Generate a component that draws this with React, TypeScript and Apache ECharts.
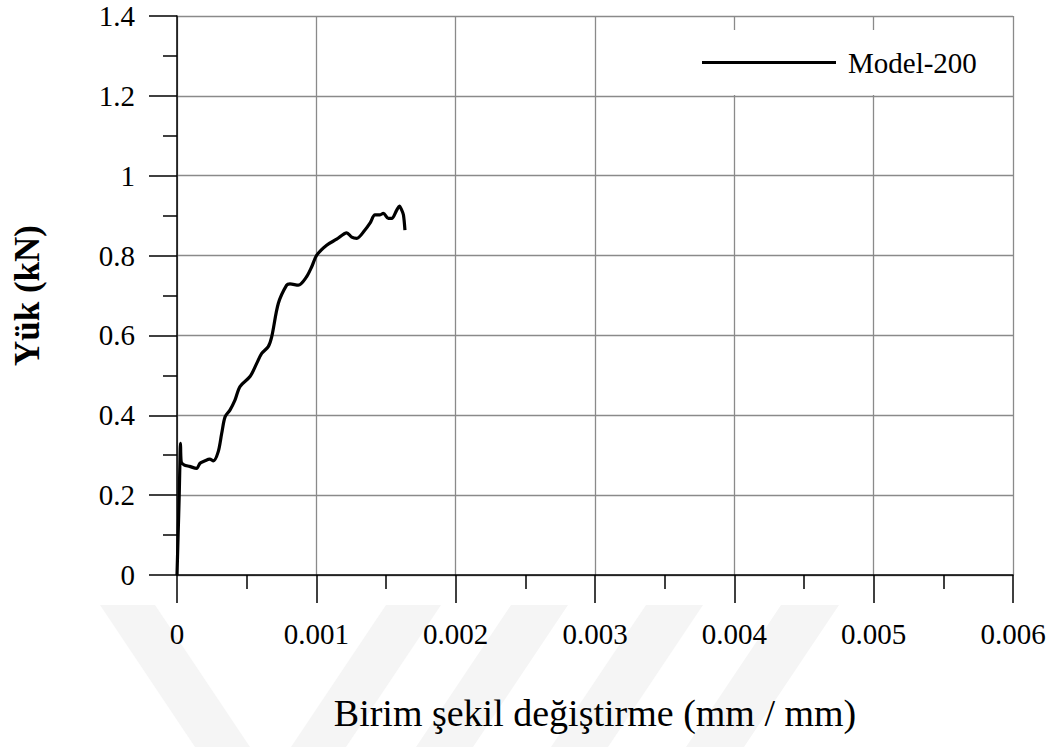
import React, { useEffect, useRef } from "react";
import * as echarts from "echarts";

const strain: number[] = [
  0, 0.000008, 0.000016, 0.000022, 0.000025, 0.00003, 0.00005, 0.00009, 0.000141, 0.000165,
  0.0002, 0.000235, 0.000261, 0.000296, 0.000321, 0.000345, 0.00038, 0.000416, 0.000452,
  0.000524, 0.000572, 0.000608, 0.000655, 0.00068, 0.000727, 0.000787, 0.000811, 0.000871,
  0.00093, 0.000967, 0.001003, 0.001074, 0.001146, 0.001218, 0.001254, 0.00129, 0.001349,
  0.001385, 0.001421, 0.001457, 0.001481, 0.001517, 0.001541, 0.001577, 0.001596, 0.001613,
  0.001625, 0.001636,
];
const load: number[] = [
  0, 0.1, 0.2, 0.3, 0.33, 0.284, 0.276, 0.272, 0.267, 0.28,
  0.286, 0.29, 0.286, 0.309, 0.355, 0.396, 0.413, 0.438, 0.472,
  0.497, 0.53, 0.555, 0.572, 0.597, 0.68, 0.726, 0.729, 0.726,
  0.747, 0.772, 0.801, 0.826, 0.841, 0.857, 0.846, 0.843, 0.864,
  0.881, 0.902, 0.902, 0.906, 0.893, 0.893, 0.914, 0.924, 0.914,
  0.902, 0.864,
];
const xTickLabels: string[] = ["0", "0.001", "0.002", "0.003", "0.004", "0.005", "0.006"];
const yTickLabels: string[] = ["0", "0.2", "0.4", "0.6", "0.8", "1", "1.2", "1.4"];
const seriesName = "Model-200";
const xTitle = "Birim şekil değiştirme (mm / mm)";
const yTitle = "Yük (kN)";

const FONT = "'Liberation Serif', 'Times New Roman', serif";

export default function App() {
  const ref = useRef<HTMLDivElement>(null);
  useEffect(() => {
    if (!ref.current) return;
    const chart = echarts.init(ref.current, undefined, { renderer: "svg" });
    const data = strain.map((s, i) => [s, load[i]]);
    const wm = "#f5f5f5";
    const band = (x0: number, x1: number, dir: number) => ({
      type: "polygon",
      silent: true,
      z: -10,
      shape: {
        points: [
          [x0, 605],
          [x1, 605],
          [x1 + dir * 95, 747],
          [x0 + dir * 95, 747],
        ],
      },
      style: { fill: wm },
    });
    chart.setOption({
      animation: false,
      backgroundColor: "#ffffff",
      textStyle: { fontFamily: FONT },
      grid: { left: 177, top: 16, width: 836, height: 559, containLabel: false },
      graphic: [
        band(100, 155, 1),
        band(386, 441, -1),
        band(511, 568, -1),
        band(646, 703, -1),
        band(781, 839, -1),
      ],
      legend: {
        show: true,
        left: 688,
        top: 30,
        padding: [18, 17, 18, 14],
        backgroundColor: "#ffffff",
        itemWidth: 134,
        itemHeight: 3,
        icon: "rect",
        data: [seriesName],
        textStyle: {
          fontFamily: FONT,
          fontSize: 29,
          color: "#000",
          padding: [0, 0, 0, 7],
        },
      },
      xAxis: {
        type: "value",
        min: 0,
        max: 0.006,
        interval: 0.001,
        name: xTitle,
        nameLocation: "middle",
        nameGap: 119,
        nameTextStyle: { fontFamily: FONT, fontSize: 38, color: "#000" },
        axisLine: { show: true, onZero: false, lineStyle: { color: "#000", width: 1.5 } },
        axisTick: { show: true, length: 28, lineStyle: { color: "#000", width: 1.5 } },
        minorTick: { show: true, splitNumber: 2, length: 14, lineStyle: { color: "#000", width: 1.5 } },
        splitLine: { show: true, lineStyle: { color: "#8a8a8a", width: 1.3 } },
        axisLabel: {
          margin: 44,
          fontFamily: FONT,
          fontSize: 29,
          color: "#000",
          formatter: (v: number) => xTickLabels[Math.round(v / 0.001)] ?? "",
        },
      },
      yAxis: {
        type: "value",
        min: 0,
        max: 1.4,
        interval: 0.2,
        name: yTitle,
        nameLocation: "middle",
        nameGap: 132,
        nameTextStyle: { fontFamily: FONT, fontSize: 35, fontWeight: "bold", color: "#000" },
        axisLine: { show: true, onZero: false, lineStyle: { color: "#000", width: 1.5 } },
        axisTick: { show: true, length: 28, lineStyle: { color: "#000", width: 1.5 } },
        minorTick: { show: true, splitNumber: 2, length: 14, lineStyle: { color: "#000", width: 1.5 } },
        splitLine: { show: true, lineStyle: { color: "#8a8a8a", width: 1.3 } },
        axisLabel: {
          margin: 42,
          fontFamily: FONT,
          fontSize: 29,
          color: "#000",
          formatter: (v: number) => yTickLabels[Math.round(v / 0.2)] ?? "",
        },
      },
      series: [
        {
          name: seriesName,
          type: "line",
          data,
          symbol: "none",
          smooth: 0.3,
          lineStyle: { color: "#000", width: 3.2 },
          itemStyle: { color: "#000" },
          z: 3,
        },
      ],
    });
    return () => chart.dispose();
  }, []);
  return (
    <div
      ref={ref}
      style={{ position: "fixed", left: 0, top: 0, width: 1063, height: 747, background: "#fff" }}
    />
  );
}
